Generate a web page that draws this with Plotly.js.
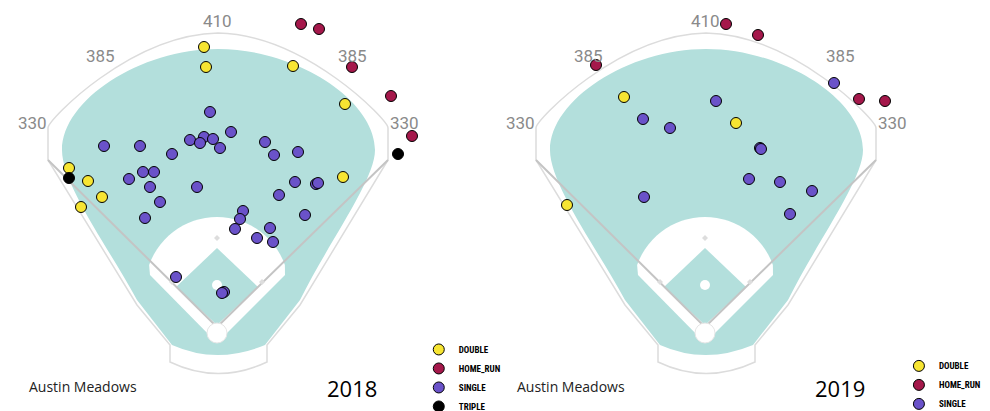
<!DOCTYPE html>
<html>
<head>
<meta charset="utf-8">
<script src="https://cdn.plot.ly/plotly-3.0.1.min.js"></script>
<style>body{margin:0;background:#fff}</style>
</head>
<body>
<div id="chart" style="width:990px;height:411px"></div>
<script>
// hit locations, in chart pixel coordinates (x right, y down)
const double18X = [204, 206, 293, 345, 343, 69, 88, 102, 81];
const double18Y = [47, 67, 66, 104, 177, 168, 181, 197, 207];
const hr18X = [301, 319, 352, 391, 412];
const hr18Y = [24, 29, 67, 96, 136];
const single18X = [210, 104, 140, 172, 190, 204, 200, 213, 231, 220, 265, 274, 298, 129, 143, 154, 150, 197, 160, 145, 295, 316, 318, 279, 305, 243, 240, 235, 270, 257, 273, 176, 224, 222];
const single18Y = [112, 146, 146, 154, 140, 137, 143, 139, 132, 148, 142, 155, 152, 179, 172, 172, 187, 187, 202, 218, 182, 184, 183, 195, 215, 211, 219, 229, 228, 238, 242, 277, 292, 293];
const triple18X = [69, 398];
const triple18Y = [178, 154];

const double19X = [624, 736, 567];
const double19Y = [97, 123, 205];
const hr19X = [596, 726, 758, 859, 885];
const hr19Y = [65, 24, 35, 99, 101];
const single19X = [643, 670, 716, 760, 761, 644, 749, 780, 812, 790, 834];
const single19Y = [119, 128, 101, 148, 149, 197, 179, 182, 191, 214, 83];

const colors = {DOUBLE: '#f7e532', HOME_RUN: '#a5184b', SINGLE: '#6a52c9', TRIPLE: '#000000'};

function pts(x, y, name, legend) {
    return {
        x: x, y: y, name: name, type: 'scatter', mode: 'markers',
        legend: legend, showlegend: true,
        marker: {size: 11, color: colors[name], line: {color: '#000', width: 1}}
    };
}

const data = [
    pts(double18X, double18Y, 'DOUBLE', 'legend'),
    pts(hr18X, hr18Y, 'HOME_RUN', 'legend'),
    pts(single18X, single18Y, 'SINGLE', 'legend'),
    pts(triple18X, triple18Y, 'TRIPLE', 'legend'),
    pts(double19X, double19Y, 'DOUBLE', 'legend2'),
    pts(hr19X, hr19Y, 'HOME_RUN', 'legend2'),
    pts(single19X, single19Y, 'SINGLE', 'legend2')
];

// field drawing
function field(dx) {
    const P = (x, y) => (x + dx) + ',' + y;
    const s = [];
    s.push({type: 'path', layer: 'below', fillcolor: '#fff', line: {color: '#dcdcdc', width: 1.5},
        path: 'M' + P(48,128) + ' C' + P(48,120) + ' ' + P(130,35) + ' ' + P(218,33) + ' C' + P(306,35) + ' ' + P(388,120) + ' ' + P(388,128) +
              ' L' + P(388,160) + ' L' + P(300,305) + ' L' + P(267,345) + ' L' + P(267,362) + ' Q' + P(218,385) + ' ' + P(170,362) +
              ' L' + P(170,345) + ' L' + P(137,305) + ' L' + P(48,160) + ' Z'});
    s.push({type: 'path', layer: 'below', fillcolor: '#b3dfdc', line: {width: 0},
        path: 'M' + P(62,150) + ' C' + P(62,100) + ' ' + P(140,49) + ' ' + P(218,49) + ' C' + P(296,49) + ' ' + P(375,100) + ' ' + P(375,150) +
              ' C' + P(375,180) + ' ' + P(330,240) + ' ' + P(300,300) + ' L' + P(265,345) + ' Q' + P(217,365) + ' ' + P(172,345) +
              ' L' + P(137,300) + ' C' + P(110,250) + ' ' + P(62,185) + ' ' + P(62,150) + ' Z'});
    // infield dirt arc
    let arc = '';
    const cx = 217, cy = 289, r = 72;
    const a0 = Math.PI + Math.asin(24 / r), a1 = 2 * Math.PI - Math.asin(24 / r);
    for (let i = 0; i <= 30; i++) {
        const a = a0 + (a1 - a0) * i / 30;
        arc += (i ? ' L' : 'M') + P(cx + r * Math.cos(a), cy + r * Math.sin(a));
    }
    s.push({type: 'path', layer: 'below', fillcolor: '#fff', line: {width: 0},
        path: arc + ' L' + P(285,275) + ' L' + P(217,343) + ' L' + P(150,275) + ' Z'});
    // infield grass
    s.push({type: 'path', layer: 'below', fillcolor: '#b3dfdc', line: {width: 0},
        path: 'M' + P(217,248) + ' L' + P(258,287) + ' L' + P(217,325) + ' L' + P(176,287) + ' Z'});
    // foul lines
    s.push({type: 'path', layer: 'below', line: {color: '#c4c4c4', width: 2},
        path: 'M' + P(48,160) + ' L' + P(217,327) + ' L' + P(388,160)});
    // home plate circle and mound
    s.push({type: 'circle', layer: 'below', fillcolor: '#fff', line: {color: '#e6e6e6', width: 1},
        x0: dx + 207, x1: dx + 227, y0: 323, y1: 343});
    s.push({type: 'circle', layer: 'below', fillcolor: '#fff', line: {width: 0},
        x0: dx + 212, x1: dx + 222, y0: 280, y1: 290});
    // bases
    [[217,238],[262,282],[172,282]].forEach(b => s.push({type: 'path', layer: 'below', fillcolor: '#ddd', line: {width: 0},
        path: 'M' + P(b[0],b[1]-3) + ' L' + P(b[0]+3,b[1]) + ' L' + P(b[0],b[1]+3) + ' L' + P(b[0]-3,b[1]) + ' Z'}));
    return s;
}

function labels(dx, year) {
    const f = {family: 'Roboto', size: 17, color: '#8a8a8a'};
    const a = [
        ['410', 217, 21], ['385', 100, 56], ['385', 352, 56], ['330', 32, 123], ['330', 404, 123]
    ].map(l => ({x: l[1] + dx, y: l[2], text: l[0], showarrow: false, font: f}));
    a.push({x: dx + 27, y: 386, xanchor: 'left', text: 'Austin Meadows', showarrow: false,
        font: {family: 'Open Sans', size: 14, color: '#222'}});
    a.push({x: dx + 352, y: 388, text: year, showarrow: false,
        font: {family: 'Open Sans', size: 22, color: '#000'}});
    return a;
}

const legFont = {family: 'Roboto Condensed, Roboto', size: 9, color: '#000', weight: 'bold'};
const layout = {
    width: 990, height: 411,
    margin: {l: 0, r: 0, t: 0, b: 0, autoexpand: false},
    paper_bgcolor: '#fff', plot_bgcolor: '#fff',
    xaxis: {range: [0, 990], visible: false, fixedrange: true},
    yaxis: {range: [411, 0], visible: false, fixedrange: true},
    shapes: field(0).concat(field(488)),
    annotations: labels(0, '2018').concat(labels(488, '2019')),
    legend: {x: 0.423, y: 0.185, yanchor: 'top', font: legFont, tracegroupgap: 0, itemwidth: 20, bgcolor: 'rgba(0,0,0,0)'},
    legend2: {x: 0.908, y: 0.145, yanchor: 'top', font: legFont, tracegroupgap: 0, itemwidth: 20, bgcolor: 'rgba(0,0,0,0)'}
};

Plotly.newPlot('chart', data, layout, {displayModeBar: false, staticPlot: true});
</script>
</body>
</html>
